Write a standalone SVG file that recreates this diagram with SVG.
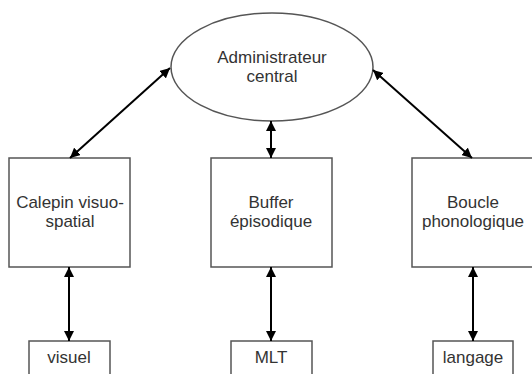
<svg xmlns="http://www.w3.org/2000/svg" width="532" height="374" viewBox="0 0 532 374">
<defs>
<marker id="ah" viewBox="0 0 10 10" refX="10" refY="5" markerWidth="10" markerHeight="10" markerUnits="userSpaceOnUse" orient="auto-start-reverse">
<path d="M0,0 L10,5 L0,10 Z" fill="#000"/>
</marker>
</defs>
<style>
.box{fill:#fff;stroke:#555;stroke-width:1.5}
.t{font-family:"Liberation Sans",Arial,sans-serif;font-size:17px;fill:#333;text-anchor:middle}
.c{stroke:#000;stroke-width:2;fill:none;marker-start:url(#ah);marker-end:url(#ah)}
</style>
<rect width="532" height="374" fill="#fff"/>
<g id="admin">
<ellipse class="box" cx="272" cy="67" rx="101" ry="54"/>
<text class="t" x="272" y="63">Administrateur</text>
<text class="t" x="272" y="82">central</text>
</g>
<g id="calepin">
<rect class="box" x="9" y="158" width="121" height="109"/>
<text class="t" x="70" y="208">Calepin visuo-</text>
<text class="t" x="70" y="227">spatial</text>
</g>
<g id="buffer">
<rect class="box" x="211" y="158" width="121" height="109"/>
<text class="t" x="271" y="208">Buffer</text>
<text class="t" x="271" y="227">épisodique</text>
</g>
<g id="boucle">
<rect class="box" x="412" y="158" width="121" height="109"/>
<text class="t" x="473" y="208">Boucle</text>
<text class="t" x="473" y="227">phonologique</text>
</g>
<g id="visuel">
<rect class="box" x="29" y="341" width="81" height="40"/>
<text class="t" x="69" y="363">visuel</text>
</g>
<g id="mlt">
<rect class="box" x="231" y="341" width="81" height="40"/>
<text class="t" x="271" y="363">MLT</text>
</g>
<g id="langage">
<rect class="box" x="433" y="341" width="80" height="40"/>
<text class="t" x="473" y="363">langage</text>
</g>
<g id="connectors">
<line class="c" x1="70" y1="158" x2="170" y2="68"/>
<line class="c" x1="373" y1="70" x2="472" y2="158"/>
<line class="c" x1="271" y1="121" x2="271" y2="158"/>
<line class="c" x1="69" y1="267" x2="69" y2="341"/>
<line class="c" x1="271" y1="267" x2="271" y2="341"/>
<line class="c" x1="473" y1="267" x2="473" y2="341"/>
</g>
</svg>
